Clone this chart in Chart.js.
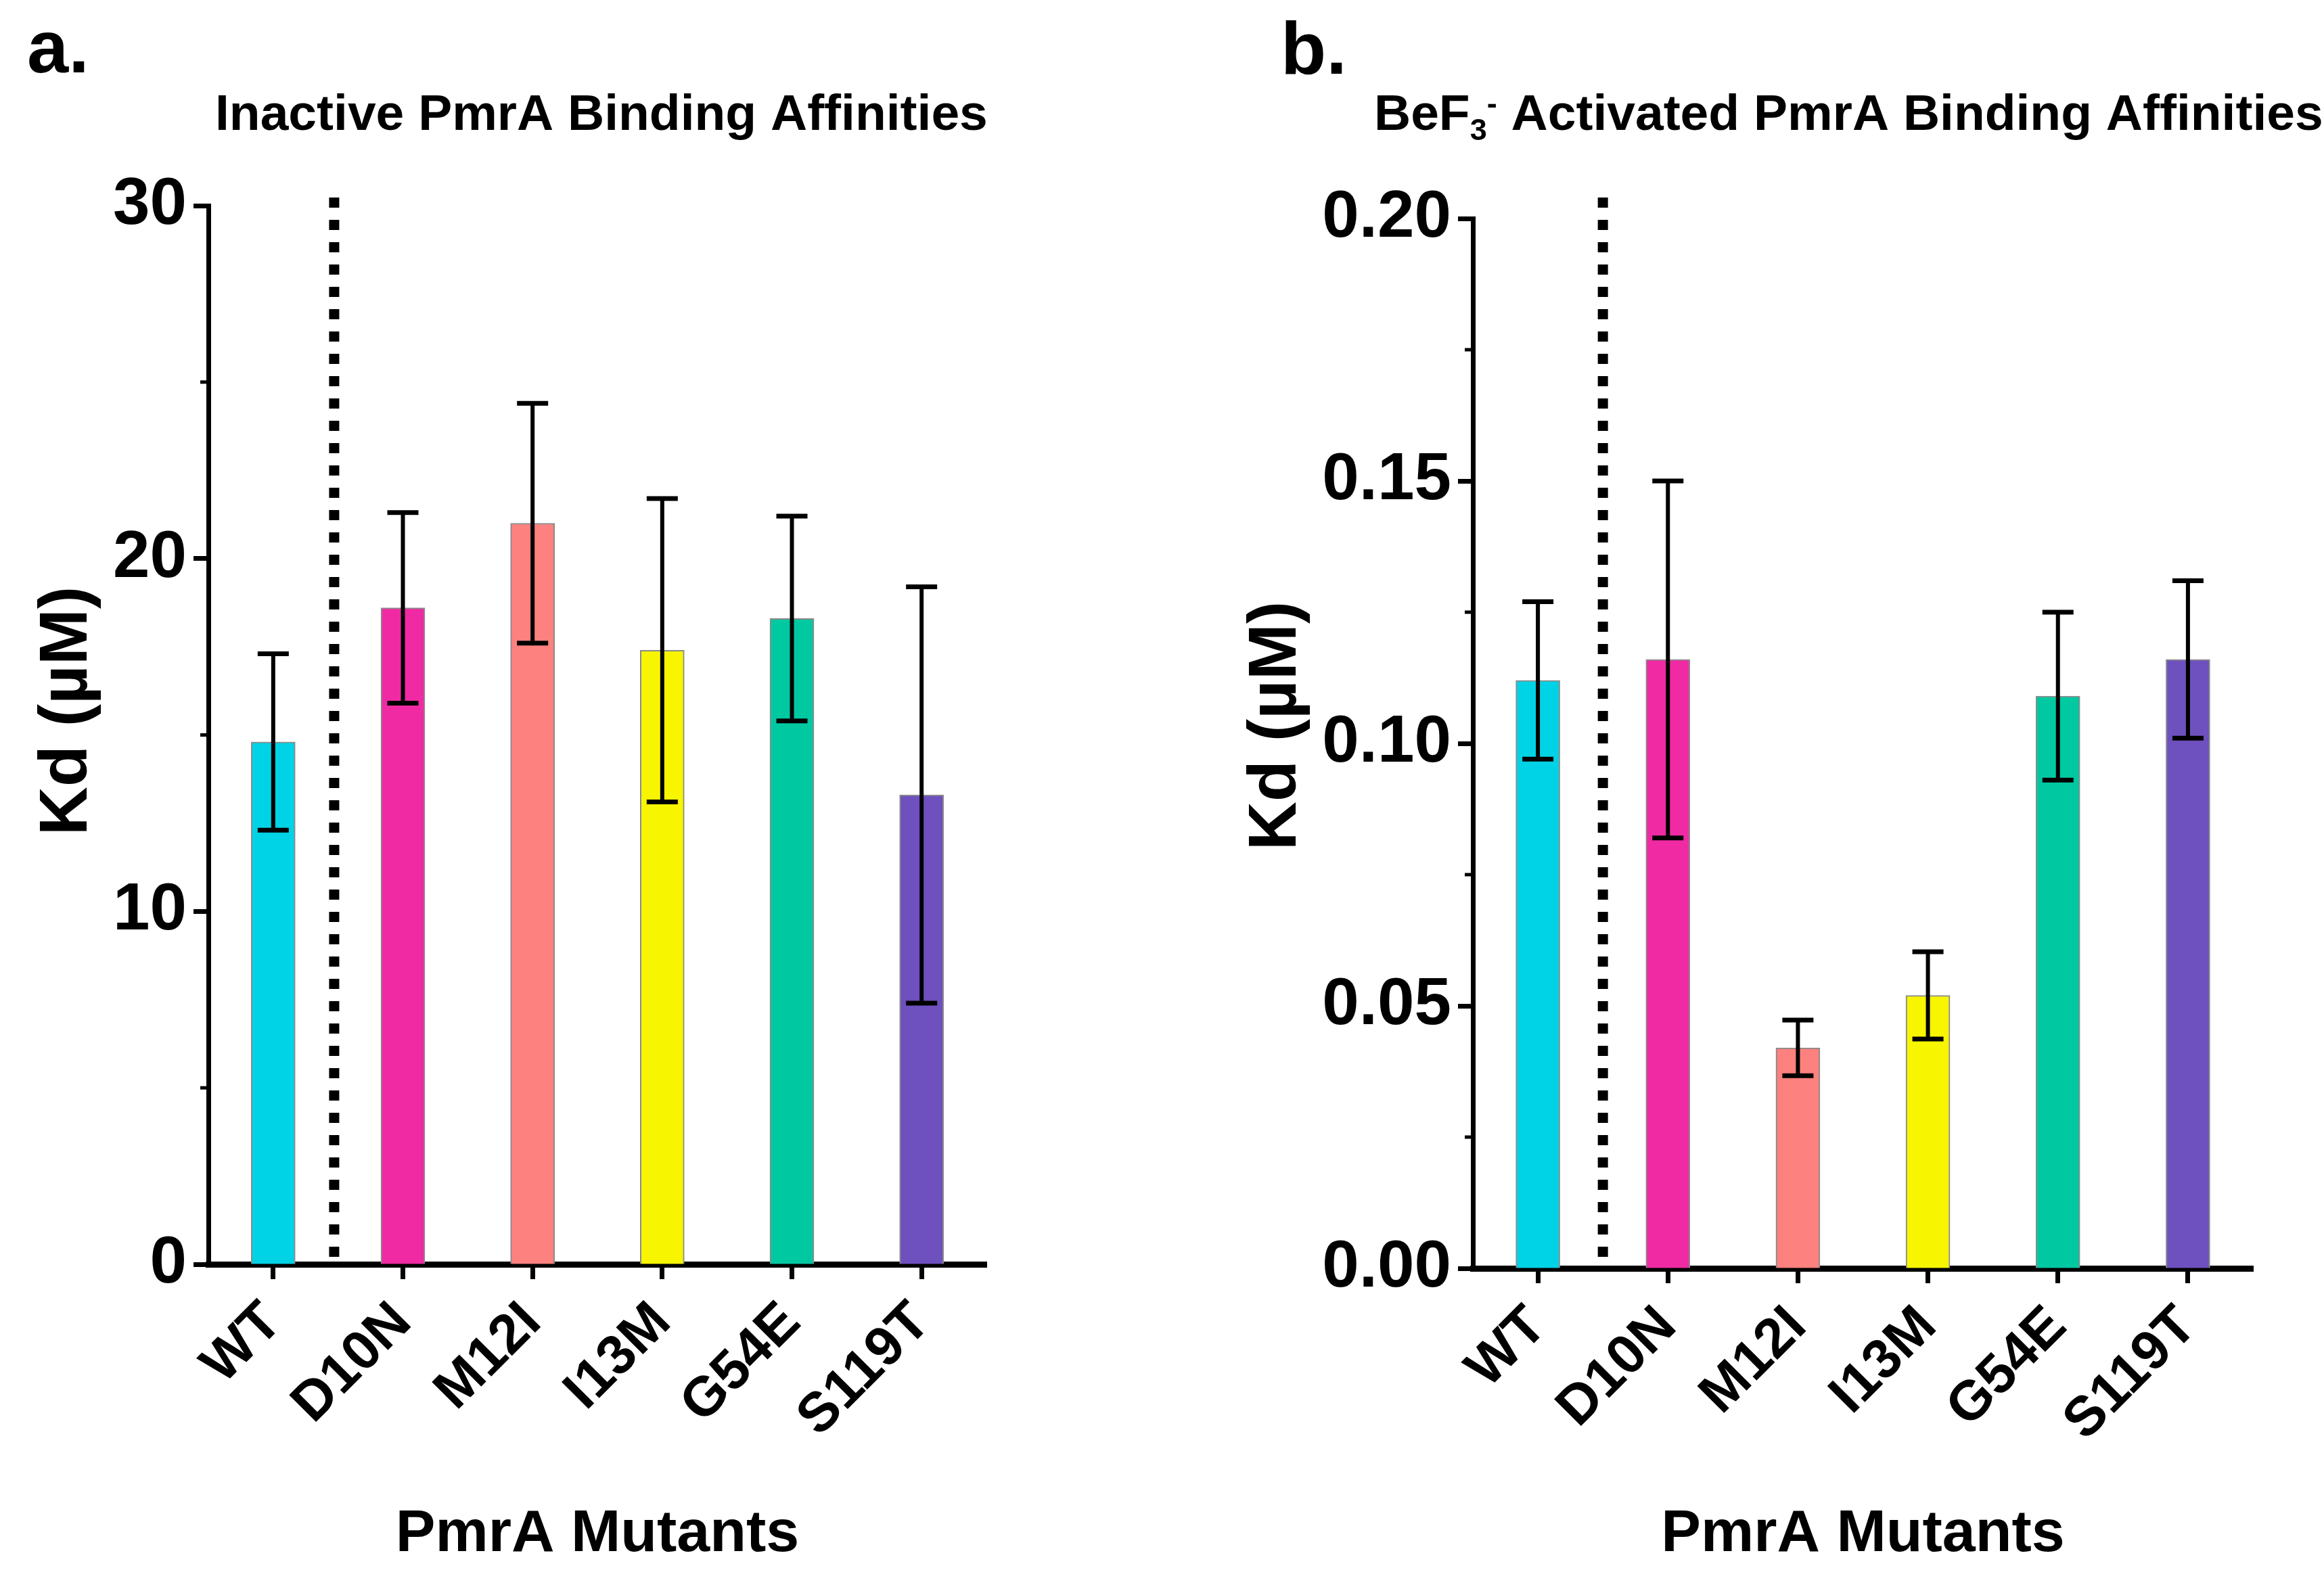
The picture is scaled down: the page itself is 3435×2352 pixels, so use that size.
<!DOCTYPE html>
<html>
<head>
<meta charset="utf-8">
<script src="https://cdn.jsdelivr.net/npm/chart.js@4.4.0/dist/chart.umd.min.js"></script>
<style>
  html, body { margin: 0; padding: 0; background: #fff; }
  body { width: 3435px; height: 2352px; position: relative; overflow: hidden; }
  canvas { position: absolute; top: 0; }
</style>
</head>
<body>
<canvas id="chartA" width="1717" height="2352" style="left:0px"></canvas>
<canvas id="chartB" width="1718" height="2352" style="left:1717px"></canvas>
<script>
// Data (mean Kd with SD error bars)
const mutants = ["WT", "D10N", "M12I", "I13M", "G54E", "S119T"];
const barColors = ["#00D3E6", "#F02AA3", "#FD817E", "#F7F500", "#00C9A2", "#6E50BE"];

const inactiveKd = [14.8, 18.6, 21.0, 17.4, 18.3, 13.3];
const inactiveSd = [2.5, 2.7, 3.4, 4.3, 2.9, 5.9];
const inactiveTicks = [0, 10, 20, 30];

const activatedKd = [0.112, 0.116, 0.042, 0.052, 0.109, 0.116];
const activatedSd = [0.015, 0.034, 0.0053, 0.0083, 0.016, 0.015];
const activatedTicks = [0, 0.05, 0.10, 0.15, 0.20];

const ARIAL = "'Liberation Sans', Arial, sans-serif";
const TITLE_SIZE = 75;

// error bars, dotted divider, minor ticks, y title, panel title and letter
// (config kept in a closure, not in chart options, so Chart.js doesn't proxy it)
function makeDecor(cfg) {
    return {
        id: "decor",
        afterDatasetsDraw(chart) {
            const ctx = chart.ctx;
            const xs = chart.scales.x, ys = chart.scales.y;
            const meta = chart.getDatasetMeta(0);
            const values = chart.data.datasets[0].data;

            ctx.save();
            ctx.strokeStyle = "#000";
            cfg.errors.forEach((sd, i) => {
                const px = meta.data[i].x;
                const hi = ys.getPixelForValue(values[i] + sd);
                const lo = ys.getPixelForValue(values[i] - sd);
                ctx.lineWidth = 6;
                ctx.beginPath();
                ctx.moveTo(px, hi); ctx.lineTo(px, lo);
                ctx.stroke();
                ctx.lineWidth = 7;
                ctx.beginPath();
                ctx.moveTo(px - 23, hi); ctx.lineTo(px + 23, hi);
                ctx.moveTo(px - 23, lo); ctx.lineTo(px + 23, lo);
                ctx.stroke();
            });

            // dotted line separating WT from the mutants
            const dx = xs.getPixelForValue(cfg.dividerAt);
            ctx.lineWidth = 15;
            ctx.setLineDash([15, 18]);
            ctx.beginPath();
            ctx.moveTo(dx, 292);
            ctx.lineTo(dx, ys.getPixelForValue(0));
            ctx.stroke();
            ctx.setLineDash([]);

            // minor ticks halfway between the labelled ones
            ctx.lineWidth = 5;
            const t = cfg.majorTicks;
            for (let i = 0; i < t.length - 1; i++) {
                const py = ys.getPixelForValue((t[i] + t[i + 1]) / 2);
                ctx.beginPath();
                ctx.moveTo(chart.chartArea.left - 12, py);
                ctx.lineTo(chart.chartArea.left, py);
                ctx.stroke();
            }
            ctx.restore();
        },
        afterDraw(chart) {
            const ctx = chart.ctx;
            ctx.save();
            ctx.fillStyle = "#000";
            ctx.textBaseline = "alphabetic";
            ctx.textAlign = "left";

            // panel letter
            ctx.font = "bold 110px " + ARIAL;
            ctx.fillText(cfg.letter, cfg.letterX, cfg.letterY);

            // y axis title
            ctx.save();
            ctx.translate(cfg.yTitleX, cfg.yTitleY);
            ctx.rotate(-Math.PI / 2);
            ctx.textAlign = "center";
            ctx.textBaseline = "middle";
            ctx.font = "bold 100px " + ARIAL;
            ctx.fillText("Kd (µM)", 0, 0);
            ctx.restore();

            // panel title, with optional sub/superscript pieces
            let x = cfg.titleX;
            cfg.title.forEach(seg => {
                const small = seg.pos === "sub" || seg.pos === "sup";
                const s = small ? Math.round(TITLE_SIZE * 0.6) : TITLE_SIZE;
                ctx.font = "bold " + s + "px " + ARIAL;
                const dy = seg.pos === "sub" ? TITLE_SIZE * 0.2 : seg.pos === "sup" ? -TITLE_SIZE * 0.32 : 0;
                ctx.fillText(seg.text, x, cfg.titleY + dy);
                x += ctx.measureText(seg.text).width;
            });
            ctx.restore();
        }
    };
}

function makeChart(canvasId, values, ticks, tickFmt, box, deco) {
    const canvas = document.getElementById(canvasId);
    const W = canvas.width, H = canvas.height;
    return new Chart(canvas.getContext("2d"), {
        type: "bar",
        data: {
            labels: mutants,
            datasets: [{
                data: values,
                backgroundColor: barColors,
                borderColor: "#8a8a8a",
                borderWidth: 2,
                barThickness: 65
            }]
        },
        options: {
            responsive: false,
            animation: false,
            devicePixelRatio: 1,
            layout: { padding: { top: box.top, left: 0, right: W - box.right, bottom: 0 } },
            plugins: {
                legend: { display: false },
                tooltip: { enabled: false }
            },
            scales: {
                x: {
                    offset: true,
                    z: 1,
                    afterFit: (s) => { s.height = H - box.bottom; },
                    grid: { display: true, offset: false, drawOnChartArea: false, drawTicks: true,
                            tickLength: 22, tickWidth: 7, tickColor: "#000" },
                    border: { display: true, color: "#000", width: 9 },
                    ticks: { color: "#000", autoSkip: false, minRotation: 45, maxRotation: 45, padding: 16,
                             font: { family: ARIAL, weight: "bold", size: 82 } },
                    title: { display: true, text: "PmrA Mutants", color: "#000",
                             font: { family: ARIAL, weight: "bold", size: 88 },
                             padding: { top: 0, bottom: 30 } }
                },
                y: {
                    min: ticks[0],
                    max: ticks[ticks.length - 1],
                    afterBuildTicks: (s) => { s.ticks = ticks.map(v => ({ value: v })); },
                    afterFit: (s) => { s.width = box.left; },
                    grid: { display: true, drawOnChartArea: false, drawTicks: true,
                            tickLength: 22, tickWidth: 7, tickColor: "#000" },
                    border: { display: true, color: "#000", width: 7 },
                    ticks: { color: "#000", padding: 10, callback: tickFmt,
                             font: { family: ARIAL, weight: "bold", size: 98 } },
                    title: { display: false }
                }
            }
        },
        plugins: [makeDecor(deco)]
    });
}

makeChart("chartA", inactiveKd, inactiveTicks, (v) => String(v),
    { left: 308, top: 304, right: 1458, bottom: 1869 },
    { errors: inactiveSd, majorTicks: inactiveTicks, dividerAt: 0.47,
      letter: "a.", letterX: 40, letterY: 107,
      yTitleX: 100, yTitleY: 1051,
      title: [{ text: "Inactive PmrA Binding Affinities" }],
      titleX: 318, titleY: 192 });

makeChart("chartB", activatedKd, activatedTicks, (v) => v.toFixed(2),
    { left: 460, top: 323, right: 1613, bottom: 1875 },
    { errors: activatedSd, majorTicks: activatedTicks, dividerAt: 0.5,
      letter: "b.", letterX: 176, letterY: 109,
      yTitleX: 170, yTitleY: 1073,
      title: [{ text: "BeF" }, { text: "3", pos: "sub" }, { text: "-", pos: "sup" },
              { text: " Activated PmrA Binding Affinities" }],
      titleX: 314, titleY: 192 });
</script>
</body>
</html>
